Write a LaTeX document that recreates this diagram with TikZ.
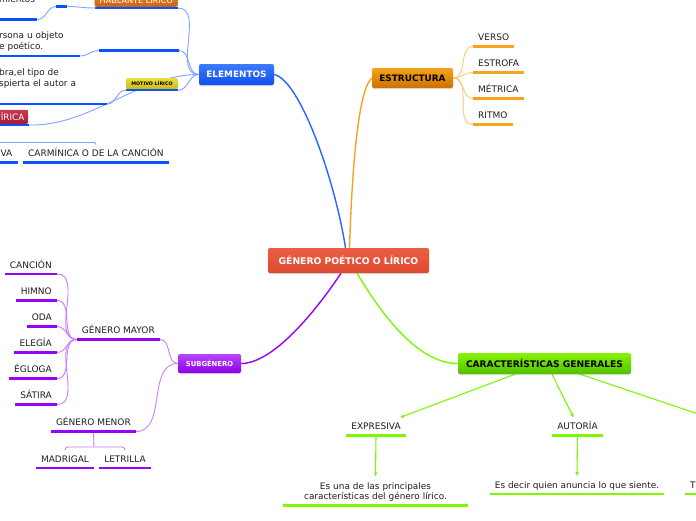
\documentclass[tikz,border=0pt]{standalone}
\usepackage{fontspec}
\setmainfont{DejaVu Sans}
\usetikzlibrary{arrows.meta,shadows}
\pgfdeclarelayer{bg}
\pgfsetlayers{bg,main}
\definecolor{rdA}{RGB}{236,94,66}
\definecolor{rdB}{RGB}{220,74,50}
\definecolor{blA}{RGB}{60,122,255}
\definecolor{blB}{RGB}{16,78,240}
\definecolor{orA}{RGB}{244,164,24}
\definecolor{orB}{RGB}{204,112,0}
\definecolor{ppA}{RGB}{184,70,255}
\definecolor{ppB}{RGB}{140,0,228}
\definecolor{gnA}{RGB}{134,244,0}
\definecolor{gnB}{RGB}{82,192,0}
\definecolor{ywA}{RGB}{236,222,64}
\definecolor{ywB}{RGB}{204,186,20}
\definecolor{haA}{RGB}{234,132,44}
\definecolor{haB}{RGB}{202,100,18}
\definecolor{irA}{RGB}{204,56,84}
\definecolor{irB}{RGB}{166,26,52}
\definecolor{ulblue}{RGB}{8,82,255}
\definecolor{lnblue}{RGB}{128,164,255}
\definecolor{mnblue}{RGB}{40,100,255}
\definecolor{ulorng}{RGB}{248,162,30}
\definecolor{lnorng}{RGB}{255,198,120}
\definecolor{ulpurp}{RGB}{152,0,255}
\definecolor{lnpurp}{RGB}{198,126,255}
\definecolor{grn}{RGB}{124,248,0}
\tikzset{
  box/.style={rounded corners=2pt,inner sep=0pt,text=white,drop shadow={opacity=0.25,shadow xshift=0pt,shadow yshift=-1.1pt}},
  leaf/.style={inner xsep=5pt,inner ysep=5.5pt,text height=6.6pt,text depth=0pt,text=black!88,font=\fontsize{9}{10.7}\selectfont},
  desc/.style={align=center,inner xsep=5pt,inner ysep=5.5pt,text depth=0pt,text=black!88,font=\fontsize{8.9}{10.7}\selectfont},
  frag/.style={align=left,inner xsep=0pt,inner ysep=5.5pt,text=black!88,font=\fontsize{8.9}{11}\selectfont},
  ulB/.style={draw=ulblue,line width=2.2pt},
  ulO/.style={draw=ulorng,line width=2.2pt},
  ulP/.style={draw=ulpurp,line width=2.2pt},
  ulG/.style={draw=grn,line width=2.2pt},
  lnB/.style={draw=lnblue,line width=0.9pt},
  lnO/.style={draw=lnorng,line width=0.9pt},
  lnP/.style={draw=lnpurp,line width=0.9pt},
  arG/.style={draw=grn,line width=1.1pt,-{Latex[length=4pt,width=4pt]}},
}
\begin{document}
\begin{tikzpicture}[x=1pt,y=-1pt]
\pgfmathsetmacro{\kox}{473}
\pgfmathsetmacro{\kpx}{57}
\useasboundingbox(0,0)rectangle(696,520);
\clip(0,0)rectangle(696,520);
% main topics
\node[box,top color=rdA,bottom color=rdB,minimum width=161pt,minimum height=25pt,font=\bfseries\fontsize{9.2}{11}\selectfont](genero)at(348.5,260.5){GÉNERO POÉTICO O LÍRICO};
\node[box,top color=blA,bottom color=blB,minimum width=75pt,minimum height=21pt,font=\bfseries\fontsize{8.9}{11}\selectfont](elem)at(236.5,74.5){ELEMENTOS};
\node[box,top color=orA,bottom color=orB,text=black,minimum width=81pt,minimum height=20pt,font=\bfseries\fontsize{8.9}{11}\selectfont](estr)at(412.5,78){ESTRUCTURA};
\node[box,top color=ppA,bottom color=ppB,minimum width=63pt,minimum height=19pt,font=\bfseries\fontsize{6.8}{8}\selectfont](subg)at(209.5,363.5){SUBGÉNERO};
\node[box,top color=gnA,bottom color=gnB,text=black,minimum width=173pt,minimum height=21pt,font=\bfseries\fontsize{9.1}{11}\selectfont](carac)at(544.5,363.5){CARACTERÍSTICAS GENERALES};
% estructura
\foreach \nm/\ky/\lb in {verso/46.5/VERSO,estrofa/72.5/ESTROFA,metrica/98.5/MÉTRICA,ritmo/124.5/RITMO}{\node[leaf,anchor=south west](\nm)at(\kox,\ky){\lb};\draw[ulO](\nm.south west)--(\nm.south east);}
% elementos
\node[box,top color=haA,bottom color=haB,minimum height=15pt,inner xsep=5pt,anchor=south east,font=\fontsize{8.1}{10}\selectfont](habl)at(178,7){HABLANTE LÍRICO};
\node[box,top color=ywA,bottom color=ywB,text=black,minimum width=52pt,minimum height=11pt,font=\bfseries\fontsize{4.8}{6}\selectfont](motivo)at(152,83.5){MOTIVO LÍRICO};
\node[box,top color=irA,bottom color=irB,minimum height=14pt,inner xsep=4pt,anchor=south east,font=\fontsize{8.8}{10}\selectfont](iric)at(28.5,124){ÍRICA};
\foreach \nm in {habl,motivo,iric}{\draw[ulB]([yshift=-1pt]\nm.south west)--([yshift=-1pt]\nm.south east);}
\node[leaf,minimum width=11pt,inner xsep=0pt,anchor=south west](hsub)at(56,6.5){};
\node[frag,text width=38pt,text depth=11pt,anchor=south west](mient)at(-1,19.5){mientos};
\node[leaf,minimum width=80pt,anchor=south east](objl)at(179,50.5){};
\node[frag,text width=81pt,text depth=12pt,anchor=south west](rsona)at(-1,56){rsona u objeto\\e poético.};
\node[frag,text width=108pt,text depth=22.5pt,anchor=south west](bra)at(-1,104){bra,el tipo de\\spierta el autor a};
\node[leaf,anchor=south east](va)at(17.5,162.5){VA};
\node[leaf,anchor=south west](carm)at(23,162.5){CARMÍNICA O DE LA CANCIÓN};
\coordinate(actj)at(-10,142.5);
\foreach \nm in {hsub,mient,objl,rsona,bra,va,carm}{\draw[ulB](\nm.south west)--(\nm.south east);}
% subgenero
\node[leaf,anchor=south east](gmayor)at(160,339.5){GÉNERO MAYOR};
\node[leaf,anchor=south east](gmenor)at(136,431.5){GÉNERO MENOR};
\foreach \nm/\ky/\lb in {cancion/274/CANCIÓN,himno/300.5/HIMNO,oda/326.5/ODA,elegia/352.5/ELEGÍA,egloga/378.5/ÉGLOGA,satira/404.5/SÁTIRA}{\node[leaf,anchor=south east](\nm)at(\kpx,\ky){\lb};\draw[ulP](\nm.south west)--(\nm.south east);}
\node[leaf,anchor=south](madrigal)at(65,468){MADRIGAL};
\node[leaf,anchor=south](letrilla)at(125,468){LETRILLA};
\coordinate(gmj)at(94,447);
\foreach \nm in {gmayor,gmenor,madrigal,letrilla}{\draw[ulP](\nm.south west)--(\nm.south east);}
% caracteristicas
\node[leaf,anchor=south](expr)at(376,435.5){EXPRESIVA};
\node[leaf,anchor=south](auto)at(577.5,435.5){AUTORÍA};
\node[desc,text width=175pt,text depth=10.7pt,anchor=south](exprd)at(375.5,505.5){Es una de las principales\\características del género lírico.};
\node[desc,anchor=south](autod)at(577,494.3){Es decir quien anuncia lo que siente.};
\node[leaf,anchor=south west](tleaf)at(685,494.3){T};
\coordinate(carac3)at(740,428);
\foreach \nm in {expr,auto,exprd,autod,tleaf}{\draw[ulG](\nm.south west)--(\nm.south east);}
\begin{pgfonlayer}{bg}
\clip(0,0)rectangle(696,520);
\fill[white](0,0)rectangle(696,520);
\draw[mnblue,line width=1.4pt](elem.east)..controls(300,80)and(335,180)..([xshift=-3pt]genero.north);
\draw[ulorng,line width=1.4pt]([xshift=1pt]genero.north)..controls(352,170)and(358,90)..(estr.west);
\draw[ulpurp,line width=1.4pt]([xshift=-7.5pt]genero.south)..controls(320,305)and(275,363.5)..(subg.east);
\draw[grn,line width=1.4pt]([xshift=8.5pt]genero.south)..controls(385,320)and(420,363.5)..(carac.west);
\foreach \nm in {verso,estrofa,metrica,ritmo}{\draw[lnO](estr.east)to[out=0,in=180](\nm.south west);}
\foreach \nm in {habl,motivo}{\draw[lnB](elem.west)to[out=180,in=0]([yshift=-1pt]\nm.south east);}
\draw[lnB](elem.west)to[out=180,in=0](objl.south east);
\draw[lnB](elem.west)..controls(140,74)and(90,127)..([yshift=-1pt]iric.south east);
\draw[lnB]([yshift=-1pt]habl.south west)to[out=180,in=0](hsub.south east);
\draw[lnB](hsub.south west)to[out=180,in=0](mient.south east);
\draw[lnB](objl.south west)to[out=180,in=0](rsona.south east);
\draw[lnB]([yshift=-1pt]motivo.south west)to[out=180,in=0](bra.south east);
\draw[lnB,rounded corners=2pt](actj)-|(carm.north);
%\draw[lnB,rounded corners=2pt](actj)-|(va.north);
\foreach \nm in {gmayor,gmenor}{\draw[lnP](subg.west)to[out=180,in=0](\nm.south east);}
\foreach \nm in {cancion,himno,oda,elegia,egloga,satira}{\draw[lnP](gmayor.south west)to[out=180,in=0](\nm.south east);}
\draw[lnP](gmenor.south)--(gmj);
\draw[lnP,rounded corners=3pt](madrigal.north)|-(gmj)-|(letrilla.north);
\draw[arG]([xshift=-29.5pt]carac.south)--([xshift=-6pt]expr.north east);
\draw[arG]([xshift=7.5pt]carac.south)--([xshift=-4pt]auto.north);
\draw[arG]([xshift=35.5pt]carac.south)--(carac3);
\draw[arG](expr.south)--(exprd.north);
\draw[arG](auto.south)--(autod.north);
\end{pgfonlayer}
\end{tikzpicture}
\end{document}
